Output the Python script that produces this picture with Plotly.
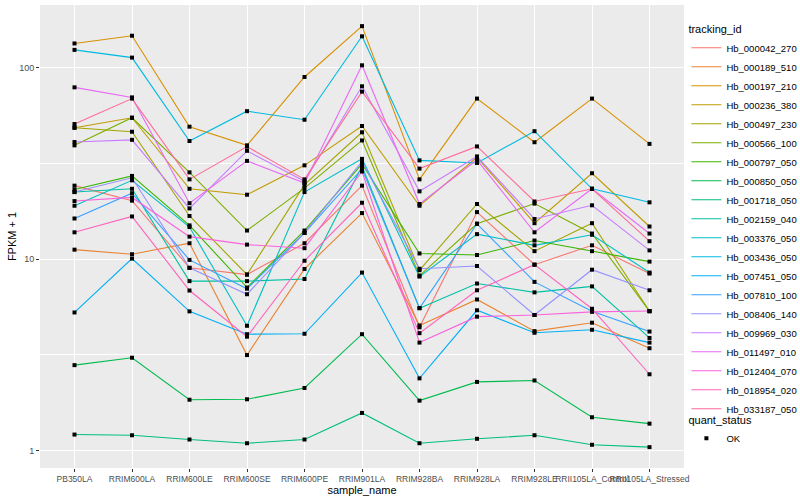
import math
import plotly.graph_objects as go

samples = ["PB350LA", "RRIM600LA", "RRIM600LE", "RRIM600SE", "RRIM600PE", "RRIM901LA",
           "RRIM928BA", "RRIM928LA", "RRIM928LE", "RRII105LA_Control", "RRII105LA_Stressed"]

tracking_ids = ["Hb_000042_270", "Hb_000189_510", "Hb_000197_210", "Hb_000236_380", "Hb_000497_230",
                "Hb_000566_100", "Hb_000797_050", "Hb_000850_050", "Hb_001718_050", "Hb_002159_040",
                "Hb_003376_050", "Hb_003436_050", "Hb_007451_050", "Hb_007810_100", "Hb_008406_140",
                "Hb_009969_030", "Hb_011497_010", "Hb_012404_070", "Hb_018954_020", "Hb_033187_050"]

# FPKM + 1 per tracking_id, one value per sample
hb_000042_270 = [24.2, 20.2, 9.0, 8.3, 12.1, 24.2, 4.4, 17.6, 9.35, 11.8, 8.4]
hb_000189_510 = [11.2, 10.6, 12.1, 3.15, 8.88, 17.4, 4.5, 6.15, 4.2, 4.65, 3.42]
hb_000197_210 = [134, 147, 49.2, 39.3, 89.5, 165, 26.1, 69, 40.8, 69, 40]
hb_000236_380 = [48.6, 54.8, 23.3, 21.7, 30.9, 49.6, 19.0, 34.0, 15.4, 28.1, 14.8]
hb_000497_230 = [48.6, 46.3, 16.8, 8.3, 24.5, 46.0, 8.75, 19.4, 11.0, 15.4, 5.34]
hb_000566_100 = [39.3, 54.8, 28.4, 14.1, 23.5, 41.7, 8.2, 15.3, 19.5, 13.6, 5.34]
hb_000797_050 = [23.1, 27.2, 15.0, 7.1, 14.1, 31.4, 10.7, 10.5, 12.5, 11.0, 9.7]
hb_000850_050 = [2.79, 3.05, 1.84, 1.85, 2.12, 4.05, 1.82, 2.28, 2.32, 1.49, 1.38]
hb_001718_050 = [1.21, 1.20, 1.14, 1.09, 1.14, 1.57, 1.09, 1.15, 1.20, 1.07, 1.04]
hb_002159_040 = [22.4, 23.3, 7.67, 7.67, 7.87, 30.6, 5.54, 7.45, 6.7, 7.2, 3.87]
hb_003376_050 = [19.0, 25.8, 14.7, 4.48, 22.4, 33.4, 8.1, 13.5, 11.8, 13.4, 8.5]
hb_003436_050 = [124, 113, 41.4, 59.3, 53.5, 146, 32.8, 31.8, 46.6, 23.3, 19.8]
hb_007451_050 = [5.26, 10.06, 5.33, 4.05, 4.07, 8.5, 2.38, 5.4, 4.12, 4.27, 3.66]
hb_007810_100 = [16.3, 22.1, 9.9, 7.0, 13.7, 29.6, 5.54, 15.3, 7.6, 5.34, 4.18]
hb_008406_140 = [22.4, 26.6, 9.0, 6.55, 13.7, 32.4, 8.9, 9.2, 5.1, 8.8, 6.87]
hb_009969_030 = [40.9, 42.0, 18.4, 36.8, 25.5, 80, 22.6, 34.4, 16.2, 19.1, 11.1]
hb_011497_010 = [79, 70, 19.6, 32.6, 25.0, 103, 19.4, 33.0, 13.8, 23.3, 13.6]
hb_012404_070 = [20.1, 21.0, 13.1, 11.9, 11.4, 28.7, 3.66, 5.0, 5.1, 5.3, 5.35]
hb_018954_020 = [13.8, 16.7, 6.85, 3.93, 9.8, 19.7, 4.1, 6.87, 9.35, 5.5, 2.5]
hb_033187_050 = [50.8, 69, 26.1, 38.7, 26.1, 75, 29.7, 38.8, 20.0, 23.3, 12.4]

series_values = [hb_000042_270, hb_000189_510, hb_000197_210, hb_000236_380, hb_000497_230,
                 hb_000566_100, hb_000797_050, hb_000850_050, hb_001718_050, hb_002159_040,
                 hb_003376_050, hb_003436_050, hb_007451_050, hb_007810_100, hb_008406_140,
                 hb_009969_030, hb_011497_010, hb_012404_070, hb_018954_020, hb_033187_050]

quant_status = "OK"


def hcl_hex(h, c=100.0, l=65.0):
    hr = math.radians(h)
    U, V = c * math.cos(hr), c * math.sin(hr)
    Xn, Yn, Zn = 95.047, 100.0, 108.883
    un = 4 * Xn / (Xn + 15 * Yn + 3 * Zn)
    vn = 9 * Yn / (Xn + 15 * Yn + 3 * Zn)
    Y = Yn * ((l + 16) / 116) ** 3
    u = U / (13 * l) + un
    v = V / (13 * l) + vn
    X = 9.0 * Y * u / (4 * v)
    Z = -X / 3 - 5 * Y + 3 * Y / v
    X, Y, Z = X / 100, Y / 100, Z / 100
    rgb = [3.240479 * X - 1.537150 * Y - 0.498535 * Z,
           -0.969256 * X + 1.875992 * Y + 0.041556 * Z,
           0.055648 * X - 0.204043 * Y + 1.057311 * Z]
    out = []
    for ch in rgb:
        ch = 12.92 * ch if ch <= 0.0031308 else 1.055 * ch ** (1 / 2.4) - 0.055
        out.append(int(round(min(max(ch, 0), 1) * 255)))
    return "#%02X%02X%02X" % tuple(out)


n = len(tracking_ids)
colors = [hcl_hex(15 + 360 * i / n) for i in range(n)]

FONT = "Liberation Sans, Arial, Helvetica, sans-serif"

fig = go.Figure()
for name, vals, col in zip(tracking_ids, series_values, colors):
    fig.add_trace(go.Scatter(x=samples, y=vals, mode="lines", name=name,
                             line=dict(color=col, width=1.1), legend="legend",
                             hoverinfo="skip"))

all_x = [s for _ in series_values for s in samples]
all_y = [v for vals in series_values for v in vals]
fig.add_trace(go.Scatter(x=all_x, y=all_y, mode="markers", name=quant_status,
                         marker=dict(symbol="square", size=4, color="black"),
                         legend="legend2"))

fig.update_layout(
    width=800, height=500,
    paper_bgcolor="white", plot_bgcolor="#EBEBEB",
    margin=dict(l=40, r=116, t=5, b=32, autoexpand=False),
    font=dict(family=FONT, size=9, color="#4D4D4D"),
    xaxis=dict(type="category", categoryorder="array", categoryarray=samples,
               range=[-0.6, 10.6], showgrid=True, gridcolor="white", gridwidth=1.1,
               zeroline=False, showline=False, ticks="outside", ticklen=3,
               tickcolor="#333333", tickwidth=1, tickangle=0, automargin=False,
               tickfont=dict(family=FONT, size=8.5, color="#4D4D4D"),
               title=dict(text="sample_name", font=dict(family=FONT, size=11, color="black"),
                          standoff=2)),
    yaxis=dict(type="log", range=[-0.092, 2.328], tickvals=[1, 10, 100],
               ticktext=["1", "10", "100"], showgrid=True, gridcolor="white", gridwidth=1.1,
               zeroline=False, showline=False, ticks="outside", ticklen=3,
               tickcolor="#333333", tickwidth=1, automargin=False,
               tickfont=dict(family=FONT, size=9, color="#4D4D4D"),
               minor=dict(tickmode="array", tickvals=[10 ** 0.5, 10 ** 1.5],
                          showgrid=True, gridcolor="white", gridwidth=0.5, ticks=""),
               title=dict(text="FPKM + 1", font=dict(family=FONT, size=11, color="black"),
                          standoff=0)),
    legend=dict(xref="container", yref="container", x=0.858, y=0.962,
                xanchor="left", yanchor="top", bgcolor="rgba(255,255,255,0)",
                maxheight=480,
                title=dict(text="tracking_id", font=dict(family=FONT, size=11, color="black")),
                font=dict(family=FONT, size=9.5, color="black"),
                itemwidth=30, tracegroupgap=0),
    legend2=dict(xref="container", yref="container", x=0.858, y=0.181,
                 xanchor="left", yanchor="top", bgcolor="rgba(255,255,255,0)",
                 title=dict(text="quant_status", font=dict(family=FONT, size=11, color="black")),
                 font=dict(family=FONT, size=9.5, color="black"), itemwidth=30),
    hovermode=False,
)

fig.write_html("out.html", config={"displayModeBar": False},
               post_script="document.body.style.margin='0';")
